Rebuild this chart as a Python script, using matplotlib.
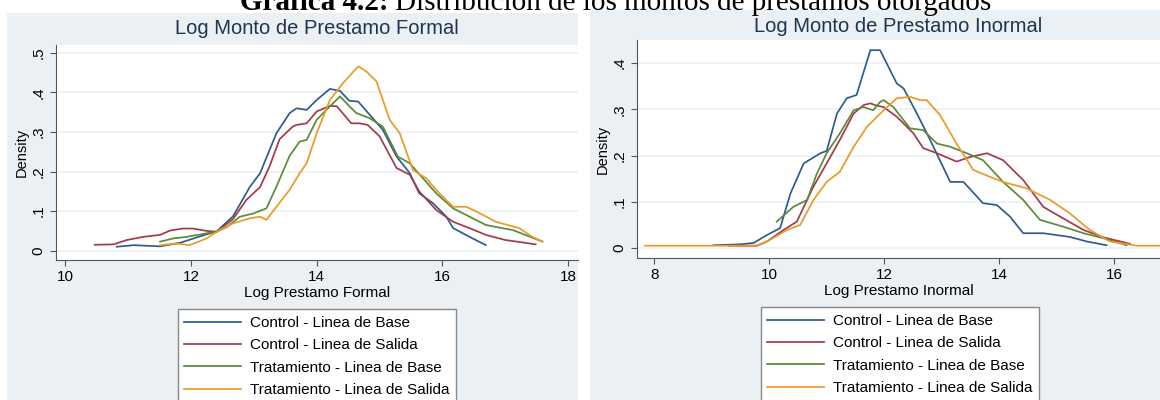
import matplotlib
matplotlib.use('Agg')
import matplotlib.pyplot as plt
from matplotlib.patches import Rectangle

plt.rcParams['font.family'] = ['Liberation Sans', 'DejaVu Sans']

# legend labels and colours
labels = ['Control - Linea de Base', 'Control - Linea de Salida',
          'Tratamiento - Linea de Base', 'Tratamiento - Linea de Salida']
colors = ['#2f5c8c', '#a33a48', '#5b8a3a', '#eb9a28']

# ---- Formal loans (left) : log amount vs density
f_cb_x = [10.82, 11.09, 11.51, 11.83, 12.14, 12.41, 12.67, 12.94, 13.10, 13.36, 13.57, 13.68, 13.84, 14.00,
          14.21, 14.37, 14.52, 14.66, 14.84, 15.05, 15.27, 15.48, 15.63, 15.85, 16.06, 16.17, 16.43, 16.69]
f_cb_y = [0.010, 0.014, 0.011, 0.020, 0.036, 0.049, 0.087, 0.162, 0.196, 0.297, 0.348, 0.360, 0.356, 0.381,
          0.409, 0.404, 0.379, 0.377, 0.344, 0.306, 0.238, 0.196, 0.145, 0.120, 0.086, 0.057, 0.035, 0.014]
f_cs_x = [10.47, 10.77, 10.98, 11.24, 11.51, 11.67, 11.87, 12.03, 12.25, 12.41, 12.67, 12.88, 13.10, 13.25,
          13.41, 13.62, 13.68, 13.84, 14.00, 14.21, 14.32, 14.55, 14.68, 14.81, 15.00, 15.27, 15.48, 15.63,
          15.90, 16.17, 16.43, 16.69, 17.00, 17.27, 17.48]
f_cs_y = [0.015, 0.016, 0.027, 0.035, 0.040, 0.051, 0.056, 0.056, 0.050, 0.048, 0.080, 0.128, 0.161, 0.213,
          0.282, 0.314, 0.318, 0.322, 0.352, 0.366, 0.365, 0.322, 0.322, 0.318, 0.289, 0.209, 0.192, 0.150,
          0.103, 0.073, 0.057, 0.040, 0.027, 0.021, 0.016]
f_tb_x = [11.51, 11.72, 11.93, 12.25, 12.41, 12.57, 12.78, 12.99, 13.20, 13.36, 13.57, 13.73, 13.84, 14.00,
          14.21, 14.37, 14.52, 14.63, 14.84, 15.05, 15.29, 15.48, 15.69, 15.90, 16.17, 16.43, 16.69, 17.12, 17.59]
f_tb_y = [0.023, 0.031, 0.035, 0.044, 0.048, 0.060, 0.086, 0.094, 0.107, 0.162, 0.240, 0.276, 0.280, 0.331,
          0.365, 0.390, 0.365, 0.348, 0.335, 0.314, 0.238, 0.221, 0.183, 0.145, 0.107, 0.086, 0.065, 0.052, 0.023]
f_ts_x = [11.51, 11.77, 11.98, 12.25, 12.46, 12.67, 12.94, 13.10, 13.20, 13.36, 13.57, 13.73, 13.84, 14.00,
          14.21, 14.42, 14.66, 14.79, 14.95, 15.16, 15.32, 15.53, 15.74, 15.95, 16.17, 16.38, 16.59, 16.85,
          17.22, 17.43, 17.59]
f_ts_y = [0.014, 0.018, 0.014, 0.031, 0.053, 0.069, 0.082, 0.086, 0.078, 0.111, 0.154, 0.196, 0.221, 0.297,
          0.381, 0.424, 0.466, 0.453, 0.428, 0.331, 0.297, 0.204, 0.183, 0.145, 0.111, 0.111, 0.095, 0.073,
          0.057, 0.035, 0.023]

# ---- Informal loans (right)
i_cb_x = [9.03, 9.50, 9.73, 9.96, 10.19, 10.37, 10.60, 10.89, 11.00, 11.18, 11.35, 11.52, 11.76, 11.93,
          12.22, 12.34, 12.57, 12.80, 13.15, 13.38, 13.72, 13.96, 14.19, 14.42, 14.77, 15.23, 15.53, 15.87]
i_cb_y = [0.006, 0.008, 0.011, 0.028, 0.043, 0.118, 0.183, 0.205, 0.210, 0.291, 0.324, 0.331, 0.428, 0.428,
          0.356, 0.345, 0.291, 0.234, 0.143, 0.143, 0.097, 0.093, 0.068, 0.032, 0.032, 0.024, 0.014, 0.006]
i_cs_x = [9.30, 9.79, 9.96, 10.25, 10.48, 10.77, 11.00, 11.23, 11.47, 11.64, 11.76, 11.87, 11.99, 12.22,
          12.51, 12.68, 12.92, 13.26, 13.50, 13.79, 14.07, 14.42, 14.77, 15.06, 15.47, 15.82, 16.28]
i_cs_y = [0.005, 0.005, 0.014, 0.039, 0.057, 0.133, 0.183, 0.234, 0.291, 0.309, 0.313, 0.308, 0.305, 0.284,
          0.248, 0.216, 0.205, 0.187, 0.197, 0.205, 0.190, 0.147, 0.089, 0.068, 0.039, 0.023, 0.009]
i_tb_x = [10.13, 10.42, 10.66, 10.83, 11.00, 11.23, 11.47, 11.64, 11.81, 11.93, 11.99, 12.16, 12.45, 12.68,
          12.92, 13.15, 13.44, 13.72, 14.07, 14.42, 14.71, 15.12, 15.47, 15.82, 16.22]
i_tb_y = [0.057, 0.089, 0.104, 0.161, 0.205, 0.248, 0.298, 0.305, 0.298, 0.316, 0.320, 0.305, 0.259, 0.255,
          0.226, 0.219, 0.205, 0.190, 0.143, 0.104, 0.061, 0.046, 0.032, 0.021, 0.006]
i_ts_x = [7.84, 9.79, 10.02, 10.31, 10.54, 10.77, 11.00, 11.23, 11.47, 11.70, 11.99, 12.22, 12.45, 12.63,
          12.74, 12.97, 13.26, 13.55, 13.84, 14.07, 14.48, 14.89, 15.23, 15.58, 15.93, 16.40, 16.80]
i_ts_y = [0.005, 0.005, 0.018, 0.039, 0.050, 0.104, 0.143, 0.165, 0.219, 0.262, 0.298, 0.324, 0.327, 0.320,
          0.320, 0.288, 0.226, 0.169, 0.154, 0.143, 0.129, 0.104, 0.075, 0.039, 0.014, 0.005, 0.005]

W, H = 1160, 400
fig = plt.figure(figsize=(11.6, 4), dpi=100)
bg = '#eaf0f3'
# panel backgrounds (stata style), behind the axes
fig.patches.append(Rectangle((7/W, 0), 571/W, 1 - 13/H, transform=fig.transFigure,
                             facecolor=bg, edgecolor='none', zorder=-5))
fig.patches.append(Rectangle((590/W, 0), 570/W, 1 - 10/H, transform=fig.transFigure,
                             facecolor=bg, edgecolor='none', zorder=-5))

# page title, bold part then normal part (cut at the top like the scan)
t1 = fig.text(240/W, 1 - 10/H, 'Gráfica 4.2:', fontsize=21, fontweight='bold', va='baseline',
              ha='left', family='Liberation Serif')
r = fig.canvas.get_renderer()
bb = t1.get_window_extent(renderer=r)
fig.text(bb.x1/W + 6/W, 1 - 10/H, 'Distribución de los montos de préstamos otorgados', fontsize=21,
         va='baseline', ha='left', family='Liberation Serif')

ax1 = fig.add_axes([55.7/W, 1 - 260/H, 522/W, 215/H])
ax2 = fig.add_axes([637/W, 1 - 258/H, 523/W, 218/H])

formal = [(f_cb_x, f_cb_y), (f_cs_x, f_cs_y), (f_tb_x, f_tb_y), (f_ts_x, f_ts_y)]
informal = [(i_cb_x, i_cb_y), (i_cs_x, i_cs_y), (i_tb_x, i_tb_y), (i_ts_x, i_ts_y)]

for i in range(4):
    ax1.plot(formal[i][0], formal[i][1], color=colors[i], lw=1.25, label=labels[i])
    ax2.plot(informal[i][0], informal[i][1], color=colors[i], lw=1.25, label=labels[i])

title_col = '#1e3550'
ax1.set_title('Log Monto de Prestamo Formal', fontsize=14.5, color=title_col, pad=8)
ax2.set_title('Log Monto de Prestamo Inormal', fontsize=14.5, color=title_col, pad=6)
ax1.set_xlabel('Log Prestamo Formal', fontsize=11, labelpad=1.5)
ax2.set_xlabel('Log Prestamo Inormal', fontsize=11, labelpad=1.5)

ax1.set_xlim(9.85, 18.15)
ax1.set_ylim(-0.0235, 0.52)
ax1.set_xticks([10, 12, 14, 16, 18])
ax1.set_yticks([0, 0.1, 0.2, 0.3, 0.4, 0.5])
ax1.set_yticklabels(['0', '.1', '.2', '.3', '.4', '.5'])

ax2.set_xlim(7.7, 16.8)
ax2.set_ylim(-0.0216, 0.45)
ax2.set_xticks([8, 10, 12, 14, 16])
ax2.set_yticks([0, 0.1, 0.2, 0.3, 0.4])
ax2.set_yticklabels(['0', '.1', '.2', '.3', '.4'])

for ax in [ax1, ax2]:
    ax.set_facecolor('white')
    ax.set_ylabel('Density', fontsize=10.5, labelpad=2)
    ax.spines['top'].set_visible(False)
    ax.spines['right'].set_visible(False)
    ax.spines['left'].set_color('#555555')
    ax.spines['bottom'].set_color('#555555')
    ax.grid(axis='y', color='#eaf0f3', lw=1.2)
    ax.set_axisbelow(True)
    ax.tick_params(labelsize=11, length=4, color='#555555')
    for t in ax.get_yticklabels():
        t.set_rotation(90)
        t.set_va('center')

# legends centred under each plot area
ax1.legend(loc='upper center', bbox_to_anchor=(317/W, 1 - 309/H), bbox_transform=fig.transFigure,
           fontsize=11, handlelength=3.7, labelspacing=0.55, fancybox=False, edgecolor='#888888',
           framealpha=1, borderpad=0.45, handletextpad=0.6, borderaxespad=0)
ax2.legend(loc='upper center', bbox_to_anchor=(900/W, 1 - 307/H), bbox_transform=fig.transFigure,
           fontsize=11, handlelength=3.7, labelspacing=0.55, fancybox=False, edgecolor='#888888',
           framealpha=1, borderpad=0.45, handletextpad=0.6, borderaxespad=0)

fig.savefig('out.png', dpi=100)
